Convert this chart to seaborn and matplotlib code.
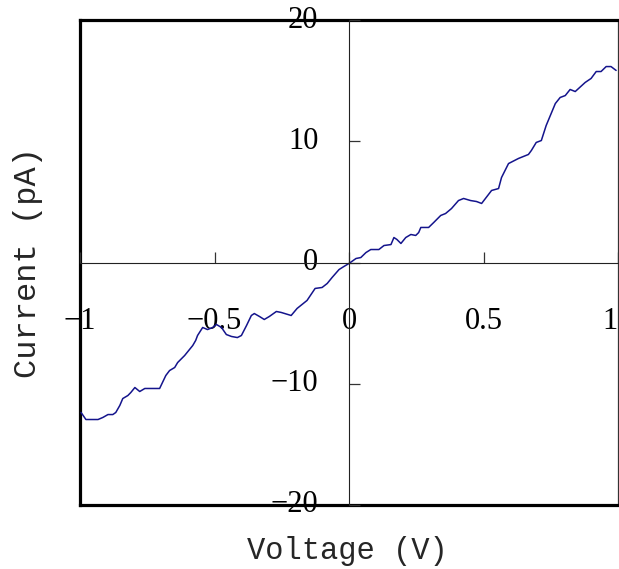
import matplotlib
matplotlib.use("Agg")
import matplotlib.pyplot as plt
import seaborn as sns

# I–V sweep of the device (voltage in V, current in pA)
voltage = [
    -0.996, -0.978, -0.933, -0.915, -0.896, -0.878, -0.867, -0.852, -0.841, -0.822,
    -0.811, -0.796, -0.778, -0.759, -0.704, -0.681, -0.667, -0.648, -0.637, -0.611,
    -0.581, -0.570, -0.563, -0.544, -0.526, -0.507, -0.493, -0.474, -0.456, -0.437,
    -0.415, -0.400, -0.381, -0.363, -0.352, -0.333, -0.315, -0.296, -0.270, -0.252,
    -0.215, -0.193, -0.156, -0.126, -0.100, -0.081, -0.063, -0.037, -0.019, 0.000,
    0.026, 0.044, 0.063, 0.081, 0.111, 0.130, 0.156, 0.167, 0.178, 0.193,
    0.211, 0.230, 0.248, 0.259, 0.267, 0.296, 0.315, 0.341, 0.359, 0.381,
    0.407, 0.426, 0.452, 0.474, 0.493, 0.530, 0.556, 0.567, 0.593, 0.630,
    0.667, 0.678, 0.696, 0.715, 0.733, 0.767, 0.785, 0.804, 0.822, 0.841,
    0.878, 0.900, 0.919, 0.937, 0.956, 0.974, 0.993,
]
current = [
    -12.37, -12.95, -12.95, -12.78, -12.54, -12.54, -12.37, -11.79, -11.22, -10.97,
    -10.72, -10.31, -10.64, -10.39, -10.39, -9.32, -8.91, -8.66, -8.25, -7.67,
    -6.85, -6.43, -6.02, -5.36, -5.53, -5.36, -5.11, -5.36, -5.94, -6.10,
    -6.19, -6.02, -5.20, -4.37, -4.21, -4.45, -4.70, -4.45, -4.04, -4.12,
    -4.37, -3.79, -3.13, -2.14, -2.06, -1.73, -1.24, -0.58, -0.33, -0.08,
    0.33, 0.41, 0.82, 1.07, 1.07, 1.40, 1.48, 2.06, 1.90, 1.57,
    2.06, 2.31, 2.23, 2.47, 2.89, 2.89, 3.30, 3.88, 4.04, 4.45,
    5.11, 5.28, 5.11, 5.03, 4.87, 5.94, 6.10, 7.01, 8.16, 8.58,
    8.91, 9.24, 9.90, 10.06, 11.30, 13.11, 13.61, 13.77, 14.27, 14.10,
    14.85, 15.18, 15.75, 15.75, 16.16, 16.16, 15.84,
]

x_ticks = [-1, -0.5, 0, 0.5, 1]
x_tick_labels = ["\u22121", "\u22120.5", "0", "0.5", "1"]
y_ticks = [-20, -10, 0, 10, 20]
y_tick_labels = ["\u221220", "\u221210", "0", "10", "20"]

sns.set_style("white")
plt.rcParams["font.family"] = ["Liberation Serif", "DejaVu Sans"]

W, H = 619, 569
fig = plt.figure(figsize=(W / 100, H / 100), dpi=100)
rect = [80 / W, (H - 505) / H, (618 - 80) / W, (505 - 20) / H]

ax = fig.add_axes(rect)
ax.set_facecolor("none")
sns.lineplot(x=voltage, y=current, ax=ax, color="#14148c", linewidth=1.1,
             estimator=None, sort=False)
ax.set_xlim(-1, 1)
ax.set_ylim(-20, 20)

# axes crossing at the origin
for side in ("top", "right"):
    ax.spines[side].set_visible(False)
for side in ("left", "bottom"):
    ax.spines[side].set_position(("data", 0))
    ax.spines[side].set_linewidth(0.8)
    ax.spines[side].set_color("#222222")

ax.set_xticks(x_ticks)
ax.set_xticklabels(x_tick_labels)
ax.set_yticks(y_ticks)
ax.set_yticklabels(y_tick_labels)
ax.tick_params(axis="both", which="major", bottom=True, left=True,
               direction="in", length=8, width=0.9,
               color="#333333", labelsize=22, labelcolor="black")
ax.tick_params(axis="x", pad=32)
ax.tick_params(axis="y", pad=22)
for lab in ax.get_yticklabels():
    lab.set_verticalalignment("center")
# keep the right-most voltage label inside the canvas
ax.get_xticklabels()[-1].set_horizontalalignment("right")

# outer frame
frame = fig.add_axes(rect, zorder=-1)
frame.set_facecolor("white")
frame.set_xticks([])
frame.set_yticks([])
for side in ("left", "top", "bottom"):
    frame.spines[side].set_linewidth(2.3)
    frame.spines[side].set_color("black")
frame.spines["right"].set_linewidth(0.9)
frame.spines["right"].set_color("#333333")

mono = ["Liberation Mono", "DejaVu Sans Mono"]
fig.text(347 / W, 1 - 551 / H, "Voltage (V)", ha="center", va="center",
         fontsize=22, family=mono)
fig.text(28 / W, 1 - 262 / H, "Current (pA)", ha="center", va="center",
         rotation=90, fontsize=23, family=mono)

fig.savefig("out.png", dpi=100)
